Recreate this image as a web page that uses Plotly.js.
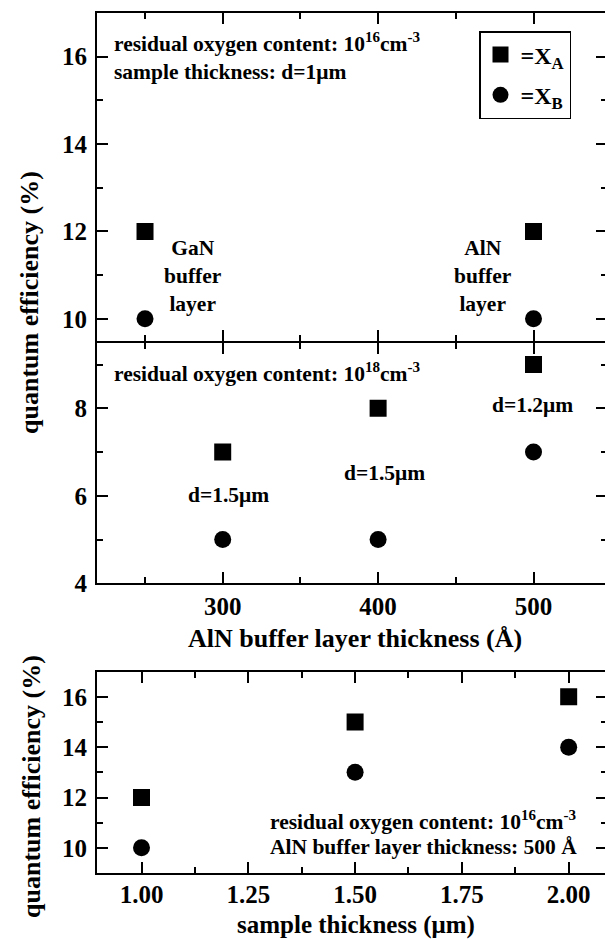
<!DOCTYPE html>
<html>
<head>
<meta charset="utf-8">
<script src="https://cdn.plot.ly/plotly-3.0.1.min.js"></script>
<style>
html, body { margin: 0; padding: 0; overflow: hidden; background: #fff; }
#chart { width: 612px; height: 939px; }
</style>
</head>
<body>
<div id="chart"></div>
<script>
// ---- data ----
const topX = [250, 500];          // AlN buffer layer thickness (Å), oxygen 1e16
const topXA = [12, 12];
const topXB = [10, 10];

const midX = [300, 400, 500];     // AlN buffer layer thickness (Å), oxygen 1e18
const midXA = [7, 8, 9];
const midXB = [5, 5, 7];

const botX = [1.0, 1.5, 2.0];     // sample thickness (µm)
const botXA = [12, 15, 16];
const botXB = [10, 13, 14];

const seriesNames = ['=X<sub>A</sub>', '=X<sub>B</sub>'];

// ---- geometry helpers (pixel -> paper) ----
const W = 612, H = 939, ML = 97, MR = 5, MT = 13, MB = 66;
const PW = W - ML - MR, PH = H - MT - MB;
const fx = p => (p - ML) / PW;
const fy = p => (H - MB - p) / PH;

const FONT = 'Liberation Serif, Times New Roman, serif';
const sqMarker = {symbol: 'square', size: 17, color: '#000'};
const ciMarker = {symbol: 'circle', size: 17, color: '#000'};

const traces = [
  {x: topX, y: topXA, xaxis: 'x2', yaxis: 'y2', mode: 'markers', marker: sqMarker, name: seriesNames[0], legendgroup: 'a', showlegend: true},
  {x: topX, y: topXB, xaxis: 'x2', yaxis: 'y2', mode: 'markers', marker: ciMarker, name: seriesNames[1], legendgroup: 'b', showlegend: true},
  {x: midX, y: midXA, xaxis: 'x', yaxis: 'y', mode: 'markers', marker: sqMarker, name: seriesNames[0], showlegend: false},
  {x: midX, y: midXB, xaxis: 'x', yaxis: 'y', mode: 'markers', marker: ciMarker, name: seriesNames[1], showlegend: false},
  {x: botX, y: botXA, xaxis: 'x3', yaxis: 'y3', mode: 'markers', marker: sqMarker, name: seriesNames[0], showlegend: false},
  {x: botX, y: botXB, xaxis: 'x3', yaxis: 'y3', mode: 'markers', marker: ciMarker, name: seriesNames[1], showlegend: false}
];

const axBase = {
  showline: true, linecolor: '#000', linewidth: 2, mirror: 'ticks',
  ticks: 'inside', ticklen: 11, tickwidth: 2, tickcolor: '#000',
  showgrid: false, zeroline: false, fixedrange: true,
  tickfont: {family: FONT, size: 25, color: '#000', weight: 'bold'}
};
function ax(extra, minor) {
  return Object.assign({}, axBase, extra, {
    minor: Object.assign({ticks: 'inside', ticklen: 6, tickwidth: 2, tickcolor: '#000', showgrid: false}, minor)
  });
}

// the two upper panels meet at y = 341.7 px; axis lines sit outside the domain,
// so leave 2 px between domains so both lines fall on the same row
const dTop = [fy(340.7), 1];
const dMid = [fy(583.3), fy(342.7)];
const dBot = [0, fy(671.7)];

const layout = {
  width: W, height: H,
  margin: {l: ML, r: MR, t: MT, b: MB},
  paper_bgcolor: '#fff', plot_bgcolor: '#fff',
  font: {family: FONT, color: '#000', weight: 'bold'},
  showlegend: true,
  legend: {
    x: fx(479), y: fy(31), xanchor: 'left', yanchor: 'top',
    bordercolor: '#000', borderwidth: 1.5, bgcolor: '#fff',
    font: {family: FONT, size: 24, color: '#000', weight: 'bold'},
    tracegroupgap: 6, traceorder: 'grouped'
  },
  xaxis: ax({anchor: 'y', domain: [0, 1], range: [219.1, 547.3], tick0: 0, dtick: 100, ticklabelstandoff: 0}, {dtick: 50, tick0: 0}),
  yaxis: ax({anchor: 'x', domain: dMid, range: [4, 9.5], tick0: 0, dtick: 2, ticklabelstandoff: 3}, {dtick: 1, tick0: 0}),
  xaxis2: ax({anchor: 'y2', domain: [0, 1], range: [219.1, 547.3], tick0: 0, dtick: 100, showticklabels: false}, {dtick: 50, tick0: 0}),
  yaxis2: ax({anchor: 'x2', domain: dTop, range: [9.5, 17], tick0: 0, dtick: 2, ticklabelstandoff: 3}, {dtick: 1, tick0: 0}),
  xaxis3: ax({anchor: 'y3', domain: [0, 1], range: [0.8958, 2.0897], tick0: 0, dtick: 0.25, tickformat: '.2f', ticklabelstandoff: -2}, {dtick: 0.125, tick0: 0}),
  yaxis3: ax({anchor: 'x3', domain: dBot, range: [9, 17], tick0: 0, dtick: 2, ticklabelstandoff: 3}, {dtick: 1, tick0: 0}),
  annotations: []
};

const annFont = {family: FONT, size: 21.5, color: '#000', weight: 'bold'};
const titleFont = {family: FONT, size: 26, color: '#000', weight: 'bold'};
const bottomTitleFont = {family: FONT, size: 25, color: '#000', weight: 'bold'};
function note(text, px, py, xanchor, font, extra) {
  layout.annotations.push(Object.assign({
    text: text, xref: 'paper', yref: 'paper', x: fx(px), y: fy(py),
    xanchor: xanchor, yanchor: 'middle', showarrow: false, font: font || annFont, align: 'center'
  }, extra || {}));
}

// top panel
note('residual oxygen content: 10<sup>16</sup>cm<sup>-3</sup>', 112, 43, 'left');
note('sample thickness: d=1μm', 112, 72, 'left');
note('GaN<br>buffer<br>layer', 193, 276, 'center');
note('AlN<br>buffer<br>layer', 483, 276, 'center');
// middle panel
note('residual oxygen content: 10<sup>18</sup>cm<sup>-3</sup>', 112, 373, 'left');
note('d=1.5μm', 228, 495, 'center');
note('d=1.5μm', 384, 473, 'center');
note('d=1.2μm', 532, 405, 'center');
// bottom panel
note('residual oxygen content: 10<sup>16</sup>cm<sup>-3</sup>', 268, 820, 'left');
note('AlN buffer layer thickness: 500 Å', 268, 847, 'left');
// axis titles
note('AlN buffer layer thickness (Å)', 355, 638, 'center', titleFont);
note('sample thickness (μm)', 356, 924.5, 'center', bottomTitleFont);
note('quantum efficiency (%)', 29, 303, 'center', titleFont, {textangle: -90});
note('quantum efficiency (%)', 31, 787, 'center', titleFont, {textangle: -90});

Plotly.newPlot('chart', traces, layout, {displayModeBar: false, staticPlot: true});
</script>
</body>
</html>
